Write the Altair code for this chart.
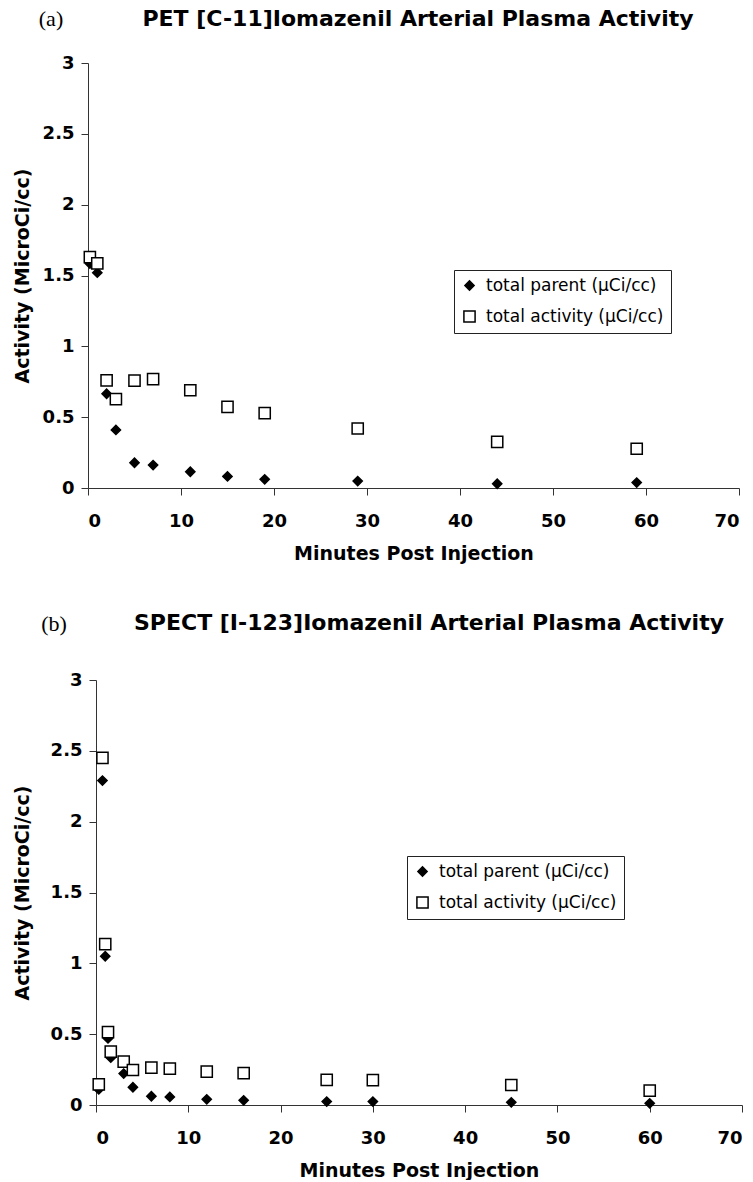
import altair as alt
import pandas as pd

# ---------------- data ----------------
series_names = ["total parent (µCi/cc)", "total activity (µCi/cc)"]

pet_minutes = [0.2, 1, 2, 3, 5, 7, 11, 15, 19, 29, 44, 59]
pet_parent = [1.585, 1.52, 0.665, 0.41, 0.178, 0.162, 0.115, 0.082, 0.061, 0.049, 0.03, 0.038]
pet_activity = [1.63, 1.585, 0.76, 0.627, 0.758, 0.768, 0.69, 0.573, 0.528, 0.42, 0.326, 0.277]

spect_minutes = [0.3, 0.7, 1.0, 1.3, 1.6, 3, 4, 6, 8, 12, 16, 25, 30, 45, 60]
spect_parent = [0.11, 2.29, 1.05, 0.47, 0.334, 0.222, 0.125, 0.062, 0.057, 0.04, 0.033, 0.024, 0.024, 0.019, 0.012]
spect_activity = [0.146, 2.45, 1.135, 0.515, 0.377, 0.306, 0.247, 0.264, 0.257, 0.235, 0.225, 0.177, 0.175, 0.141, 0.102]

x_tick_values = [0, 10, 20, 30, 40, 50, 60, 70]
y_tick_values = [0, 0.5, 1, 1.5, 2, 2.5, 3]

titles = [
    "PET [C-11]Iomazenil Arterial Plasma Activity",
    "SPECT [I-123]Iomazenil Arterial Plasma Activity",
]
tags = ["(a)", "(b)"]
x_title = "Minutes Post Injection"
y_title = "Activity (MicroCi/cc)"

SANS = "DejaVu Sans"
SERIF = "Liberation Serif"


def long_table(minutes, parent, activity):
    rows = []
    for name, vals in zip(series_names, [parent, activity]):
        for m, v in zip(minutes, vals):
            rows.append({"minutes": m, "activity": v, "series": name})
    return pd.DataFrame(rows)


def panel(df, title, tag, tag_x, tag_y, title_x, title_y, legend_x, legend_y,
          width, height, x_start, y_title_pad):
    legend = alt.Legend(
        title=None,
        orient="none",
        legendX=legend_x,
        legendY=legend_y,
        padding=7,
        strokeColor="#222222",
        fillColor="white",
        labelFont=SANS,
        labelFontSize=17,
        labelColor="black",
        labelOffset=8,
        labelLimit=400,
        rowPadding=13,
        symbolStrokeColor="black",
        symbolStrokeWidth=1.5,
    )
    scale_dom = series_names
    y_axis = dict(
        values=y_tick_values,
        format="~g",
        title=y_title,
        labelPadding=7,
        titlePadding=y_title_pad,
    )
    if x_start:
        y_axis["offset"] = -x_start
    points = alt.Chart(df).mark_point(
        filled=False, strokeWidth=1.5, opacity=1
    ).encode(
        x=alt.X(
            "minutes:Q",
            scale=alt.Scale(domain=[0, 70], range=[x_start, width], nice=False, zero=True),
            axis=alt.Axis(
                values=x_tick_values,
                title=x_title,
                labelPadding=17,
                titlePadding=14,
            ),
        ),
        y=alt.Y(
            "activity:Q",
            scale=alt.Scale(domain=[0, 3], nice=False),
            axis=alt.Axis(**y_axis),
        ),
        shape=alt.Shape(
            "series:N",
            scale=alt.Scale(domain=scale_dom, range=["diamond", "square"]),
            legend=legend,
        ),
        fill=alt.Fill(
            "series:N",
            scale=alt.Scale(domain=scale_dom, range=["black", "white"]),
            legend=legend,
        ),
        stroke=alt.Stroke(
            "series:N",
            scale=alt.Scale(domain=scale_dom, range=["black", "black"]),
            legend=legend,
        ),
        size=alt.Size(
            "series:N",
            scale=alt.Scale(domain=scale_dom, range=[85, 125]),
            legend=legend,
        ),
    )
    tag_text = alt.Chart(pd.DataFrame({"tag": [tag]})).mark_text(
        font=SERIF, fontSize=22, align="center", baseline="middle", color="black"
    ).encode(x=alt.value(tag_x), y=alt.value(tag_y), text="tag:N")

    title_text = alt.Chart(pd.DataFrame({"title": [title]})).mark_text(
        font=SANS, fontSize=22, fontWeight="bold", align="center",
        baseline="middle", color="black"
    ).encode(x=alt.value(title_x), y=alt.value(title_y), text="title:N")

    return alt.layer(points, tag_text, title_text).properties(
        width=width, height=height
    )


top = panel(long_table(pet_minutes, pet_parent, pet_activity), titles[0], tags[0],
            -37, -44, 330, -44, 366, 207, 651, 425, 0, 10)
bottom = panel(long_table(spect_minutes, spect_parent, spect_activity), titles[1], tags[1],
               -34, -56, 341, -57, 319, 176, 654, 425, 8, 18)

chart = alt.concat(top, bottom, columns=1, spacing=49, align="none").resolve_scale(
    shape="independent", fill="independent", stroke="independent", size="independent"
).resolve_legend(
    shape="independent", fill="independent", stroke="independent", size="independent"
).properties(
    padding={"left": 5, "top": 0, "right": 0, "bottom": 0}
).configure_view(stroke=None).configure_axis(
    grid=False,
    domainColor="#333333",
    domainWidth=1,
    tickColor="#333333",
    tickSize=7,
    labelFont=SANS,
    labelFontSize=18,
    labelFontWeight="bold",
    labelColor="black",
    titleFont=SANS,
    titleFontSize=19,
    titleFontWeight="bold",
    titleColor="black",
)

chart.save("out.html", embed_options={"renderer": "svg", "actions": False})
